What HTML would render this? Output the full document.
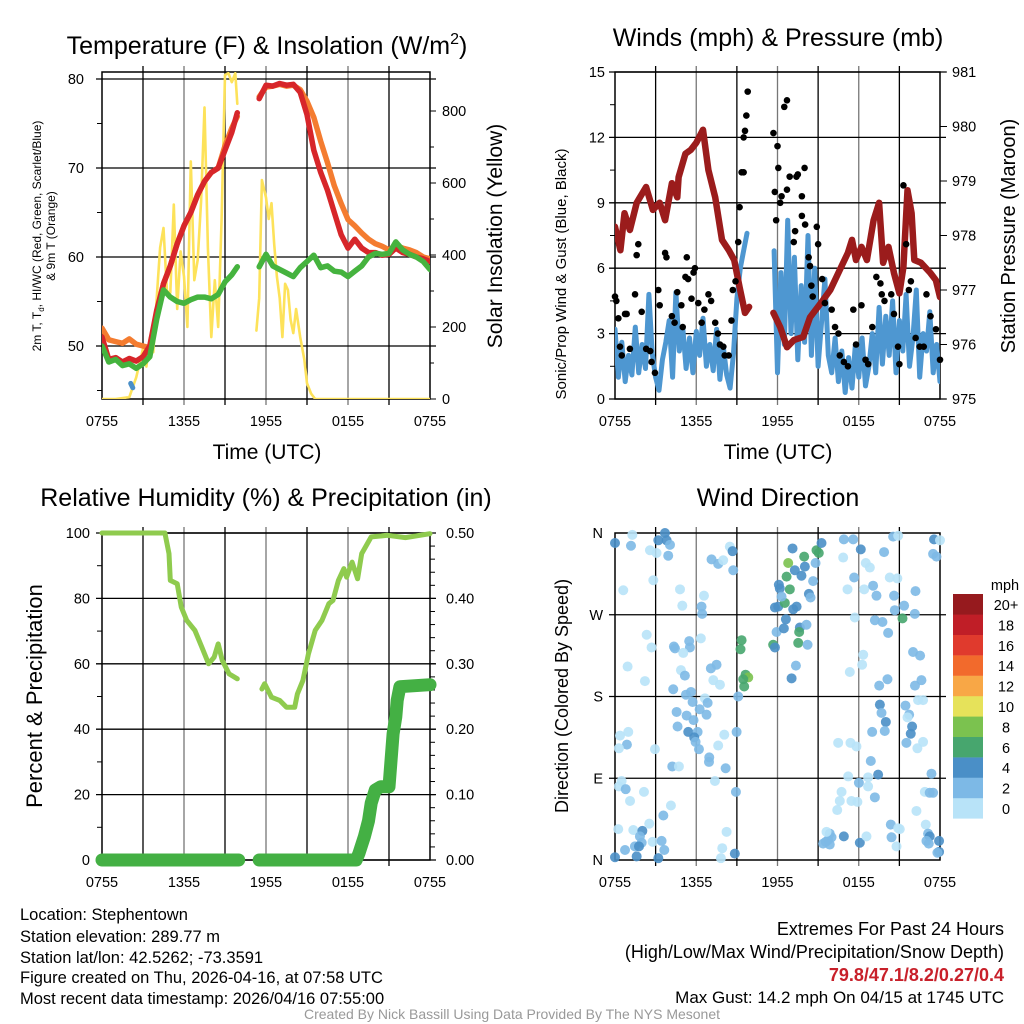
<!DOCTYPE html>
<html><head><meta charset="utf-8"><style>
html,body{margin:0;padding:0;background:#fff;}
svg{display:block;font-family:"Liberation Sans",sans-serif;}
</style></head><body>
<svg id="c" width="1024" height="1024" viewBox="0 0 1024 1024" xmlns="http://www.w3.org/2000/svg">
<defs>
<clipPath id="cp1"><rect x="102" y="72" width="328" height="327"/></clipPath>
<clipPath id="cp2"><rect x="615" y="72" width="325" height="327"/></clipPath>
</defs>
<g font-size="25" text-anchor="middle" fill="#000">
<text x="267" y="54">Temperature (F) &amp; Insolation (W/m<tspan font-size="16" dy="-10">2</tspan><tspan dy="10">)</tspan></text>
<text x="778" y="46">Winds (mph) &amp; Pressure (mb)</text>
<text x="266" y="506">Relative Humidity (%) &amp; Precipitation (in)</text>
<text x="778" y="506">Wind Direction</text>
</g>
<g font-size="21" text-anchor="middle">
<text x="267" y="459">Time (UTC)</text>
<text x="778" y="459">Time (UTC)</text>
<text transform="translate(502,236) rotate(-90)">Solar Insolation (Yellow)</text>
<text transform="translate(1015,236) rotate(-90)" font-size="20">Station Pressure (Maroon)</text>
<text transform="translate(42,696) rotate(-90)" font-size="22">Percent &amp; Precipitation</text>
<text transform="translate(566,274) rotate(-90)" font-size="15">Sonic/Prop Wind &amp; Gust (Blue, Black)</text>
<text transform="translate(568,696) rotate(-90)" font-size="18">Direction (Colored By Speed)</text>
<text transform="translate(41,236) rotate(-90)" font-size="12">2m T, T<tspan font-size="8" dy="3">d</tspan><tspan dy="-3">, HI/WC (Red, Green, Scarlet/Blue)</tspan></text>
<text transform="translate(55,236) rotate(-90)" font-size="12">&amp; 9m T (Orange)</text>
</g>
<g id="plots"></g>
<g font-size="16.5" fill="#000">
<text x="20" y="920">Location: Stephentown</text>
<text x="20" y="942">Station elevation: 289.77 m</text>
<text x="20" y="963">Station lat/lon: 42.5262; -73.3591</text>
<text x="20" y="983">Figure created on Thu, 2026-04-16, at 07:58 UTC</text>
<text x="20" y="1004">Most recent data timestamp: 2026/04/16 07:55:00</text>
</g>
<g font-size="18" text-anchor="end">
<text x="1004" y="935">Extremes For Past 24 Hours</text>
<text x="1004" y="958">(High/Low/Max Wind/Precipitation/Snow Depth)</text>
<text x="1004" y="981" fill="#c8202a" font-weight="bold">79.8/47.1/8.2/0.27/0.4</text>
<text x="1004" y="1003" font-size="17">Max Gust: 14.2 mph On 04/15 at 1745 UTC</text>
</g>
<text x="512" y="1019" font-size="14" fill="#999" text-anchor="middle">Created By Nick Bassill Using Data Provided By The NYS Mesonet</text>
</svg>
<script>
// ---------- DATA ----------
const xTickLabels=["0755","1355","1955","0155","0755"];
const tempTimesA=[0,0.5,1,1.5,2,2.5,3,3.5,4,4.5,5,5.5,6,6.5,7,7.5,8,8.5,9,9.5,9.9];
const tempTimesB=[11.5,12,12.5,13,13.5,14,14.5,15,15.5,16,16.5,17,17.5,18,18.5,19,19.5,20,20.5,21,21.5,22,22.5,23,23.5,24];
const temp2mA=[51,48.5,48.7,48.2,48.6,48.3,48.8,50,54,57,59,61.5,63.5,65,67,68.5,69.5,70,72,74,76.2];
const temp2mB=[77.8,79.3,79.2,79.5,79.3,79.4,78.5,76,72,69.5,67.5,65,62.5,61,62,61,60.5,60.5,60.2,60.3,61,60.5,60.3,60,59.8,59.5];
const temp9mA=[52,50.7,50.5,50.3,50.8,50.2,50,49.8,53.5,57,59,61.5,63.5,65,67,68.5,69.5,70,72.5,74.5,75.8];
const temp9mB=[78,79.1,79.2,79.4,79.2,79.3,78.8,77.5,75.7,73,70.6,68,66,64.2,63.5,62.7,62,61.5,61.2,60.8,61.3,61,60.8,60.5,60,59.8];
const heatIdxA=[50,48.2,48.5,47.8,48,47.5,48,48.8,53,56.3,55.5,55,54.8,55.2,55.5,55.5,55.3,55.8,57.2,58,58.9];
const heatIdxB=[58.9,60.3,59,58.6,58.2,57.8,58.8,59.5,60.2,58.8,59,58.4,58.3,57.8,58.4,59,60,60.4,60.3,60.4,61.7,60.8,60.3,60,59.5,58.6];
const windChillTimes=[2.1,2.25];
const windChillVals=[45.8,45.3];
const tempTicks=[50,60,70,80];
const solarTimesA=[0,1,2,2.5,3,3.25,3.5,3.75,4,4.25,4.5,4.75,5,5.25,5.5,5.75,6,6.25,6.5,6.75,7,7.25,7.5,7.75,8,8.25,8.5,8.75,9,9.25,9.5,9.75,9.9];
const solarValsA=[0,0,5,60,140,90,170,130,280,420,475,300,295,540,250,410,340,200,660,330,386,550,810,420,172,330,200,500,900,905,880,905,820];
const solarTimesB=[11.3,11.5,11.7,12,12.2,12.4,12.6,12.8,13,13.2,13.4,13.6,13.8,14,14.2,14.5,14.8,15,15.3,15.6,16,17,24];
const solarValsB=[190,280,608,560,500,544,430,340,280,172,320,303,220,183,250,172,110,44,15,0,0,0,0];
const solarTicks=[0,200,400,600,800];
const windStartA=0, windStartB=11.75;
const windA=[3.2,1.0,2.6,0.8,2.0,1.1,3.3,1.2,2.5,1.4,4.8,2.1,1.0,0.4,1.8,2.6,3.6,1.0,4.9,2.2,3.3,1.4,2.8,1.2,3.1,2.0,3.7,1.5,2.5,1.3,3.2,0.9,2.4,1.1,0.5,2.1,4.6,6.0,6.8,7.6];
const windB=[6.8,1.2,5.8,2.5,8.2,3.0,6.5,1.8,5.2,2.6,7.5,2.0,6.0,1.5,3.5,5.5,2.0,1.2,2.8,0.8,2.2,0.3,1.9,0.5,2.5,1.0,2.8,0.6,1.5,3.0,1.2,4.2,1.6,3.8,2.0,4.5,1.2,3.6,2.2,4.8,1.5,2.8,5.0,1.0,3.0,2.2,4.0,1.2,2.5,0.8];
const gustTimes=[0,0.1,0.25,0.37,0.5,0.74,0.86,1.1,1.48,1.6,1.72,1.97,2.3,2.6,2.7,2.95,3.2,3.3,3.7,3.8,4.2,4.4,4.6,4.9,5.0,5.2,5.3,5.4,5.65,5.8,5.9,6.15,6.4,6.6,6.9,7.1,7.4,7.6,7.75,8,8.1,8.4,8.6,8.7,8.9,9.1,9.2,9.35,9.5,9.5,9.6,9.7,9.8,
11.7,11.8,11.9,12.0,12.06,12.2,12.3,12.5,12.7,12.7,12.9,13.2,13.3,13.4,13.5,13.8,14,13.8,14.04,14.3,14.4,14.5,14.6,14.9,15,15.3,15.5,16,16.25,16.5,16.6,16.9,17.2,17.6,17.8,18.2,18.5,18.7,19,19.3,19.6,19.7,19.9,20.4,20.6,20.9,21.0,21.3,21.5,21.7,21.85,22.2,22.5,22.8,23.0,23.3,23.7,24];
const gustVals=[4.7,4.5,3.7,2.4,2,3.9,3.9,2.3,4.8,6.6,7.1,4.0,2.3,2.2,1.7,1.2,5.0,4.3,6.7,6.5,3.8,3.5,4.9,4.3,3.3,5.6,6.5,5.5,4.6,5.8,6,4.4,3.5,4.1,4.8,4.5,3.5,3.0,2.5,2.4,2,2,3.6,5.0,5.4,7.2,8.8,10.4,10.4,12,12.3,13,14.1,
12.2,9.5,8.2,11.6,10.6,9.0,9.3,13.4,13.7,9.6,10.2,7.2,7.7,10.2,10.3,9.3,10.6,8.4,8,6.5,6.1,5.2,4.7,7.9,7.1,5.5,4.4,4.1,3.3,3.0,2.0,1.7,1.5,4.1,2.5,4.3,1.8,1.6,3.3,5.6,5.3,4.8,4.5,4.8,3.9,2.4,1.6,9.8,7.1,5.0,5.4,2.8,2.4,2.4,4.8,3.8,3.2,1.8];
const presTimesA=[0,0.4,0.7,1.1,1.6,2.3,2.8,3.3,3.7,4.2,4.6,4.7,5.2,5.6,6.0,6.5,6.9,7.4,7.9,8.4,8.8,9.2,9.6,9.9];
const presValsA=[978.16,977.73,978.41,978.1,978.6,978.89,978.47,978.6,978.28,978.96,978.7,979.07,979.5,979.57,979.7,979.94,979.2,978.7,977.92,977.73,977.55,977.05,976.58,976.69];
const presTimesB=[11.7,12.2,12.7,13.2,13.9,14.4,15.2,15.9,16.7,17.2,17.5,17.8,18.2,18.6,19.1,19.5,19.8,20.2,20.6,21.0,21.3,21.6,21.9,22.1,22.6,23.3,23.7,24];
const presValsB=[976.58,976.32,975.95,976.08,976.14,976.5,976.76,977,977.42,977.68,977.92,977.55,977.79,977.55,978.28,978.6,977.5,977.79,977.31,976.94,977.42,978.83,978.41,977.55,977.5,977.31,977.18,976.87];
const windTicks=[0,3,6,9,12,15];
const presTicks=[975,976,977,978,979,980,981];
const rhTimesA=[0,2,4,4.6,4.9,5.0,5.5,5.8,6.2,6.8,7.3,7.8,8.2,8.5,8.8,9.3,9.9];
const rhValsA=[100,100,100,100,93.7,85.5,84.5,77.3,73.3,70.2,65.1,60,62,66.1,61,56.9,55.4];
const rhTimesB=[11.7,11.9,12.4,13.0,13.5,14.1,14.3,14.7,15.1,15.6,16.1,16.6,16.9,17.3,17.7,17.9,18.3,18.7,19,19.7,20.9,22.2,24];
const rhValsB=[52.3,53.9,49.8,48.8,46.7,46.7,50.8,54.9,63,70.2,73.3,78.4,79.4,85.5,89.1,86.5,91.1,86,93.7,98.8,99.3,98.6,99.8];
const precipTimesA=[0,10];
const precipValsA=[0,0];
const precipTimesB=[11.5,18.6,18.8,19.2,19.5,19.7,20,20.4,21,21.3,21.5,21.6,21.8,24];
const precipValsB=[0,0,0.01,0.036,0.06,0.087,0.107,0.112,0.112,0.193,0.219,0.244,0.265,0.268];
const rhTicks=[0,20,40,60,80,100];
const precipTicks=["0.00","0.10","0.20","0.30","0.40","0.50"];
const dirTimes=[0.0,1.28,1.18,2.58,3.07,3.2,3.69,3.81,4.06,3.93,2.83,0.61,4.8,4.97,6.57,6.39,6.44,7.13,7.62,7.99,8.48,8.68,8.73,2.34,2.7,0.93,2.21,4.35,4.43,5.48,5.53,5.04,6.34,4.87,5.16,7.08,7.5,7.26,7.75,4.3,5.24,5.61,5.73,6.64,6.84,6.25,6.76,4.55,5.29,5.8,4.62,5.41,6.1,5.85,5.95,6.2,0.37,0.98,0.88,0.29,2.95,7.62,8.07,8.98,9.1,6.96,6.94,4.23,4.72,8.17,7.38,8.93,0.49,0.29,0.79,1.11,2.14,4.13,3.57,2.53,0.24,1.35,2.02,1.84,1.97,1.47,1.77,1.6,0.74,0,2.78,3.44,3.64,3.2,8.24,7.92,7.82,8.85,
9.35,9.27,9.64,9.84,9.47,9.54,11.68,11.81,11.93,12.47,12.62,12.05,11.81,12.54,12.17,12.1,12.3,12.91,12.67,12.79,13.11,13.28,13.77,13.97,14.02,13.41,13.16,13.65,13.6,13.53,14.14,14.22,14.32,14.44,14.63,14.81,14.88,15.05,15.25,13.36,13.04,
16.9,17.59,18.15,16.85,18.52,18.82,17.66,17.17,18.4,19.06,19.31,19.87,20.54,20.91,20.29,20.85,20.61,20.66,21.35,21.23,22.14,22.19,23.56,24.0,23.49,23.74,17.71,19.19,19.75,20.17,18.33,18.25,17.34,20.12,19.51,22.01,22.53,22.63,22.15,19.56,19.68,20.0,19.92,18.99,21.45,21.72,21.6,21.94,21.84,21.52,22.38,22.75,22.33,22.75,16.48,17.39,17.83,18.89,19.43,17.22,18.01,18.69,18.69,19.19,17.46,17.9,16.73,16.6,16.41,23.37,22.88,23.24,23.49,22.26,22.95,20.37,20.91,21.03,20.42,20.79,23.12,23.24,23.0,23.17,23.93,23.93,23.81,18.08,18.57,16.9,15.86,15.99,15.74,15.57,15.37,15.86,15.62];
const dirDegs=[349,358,346,341,338,352,360,352,347,335,308,297,298,280,291,279,271,331,326,330,345,340,319,248,234,213,197,235,233,241,234,228,244,209,203,211,215,198,193,188,182,185,174,178,173,166,160,163,159,154,147,141,141,135,130,122,137,141,127,123,122,126,138,141,180,113,108,103,103,101,87,75,87,81,78,65,75,60,49,40,34,33,32,26,19,15,15,4,11,3,20,21,11,2,31,13,2,7,
242,232,204,201,199,191,237,234,251,255,265,279,278,283,299,303,290,298,312,327,343,319,313,334,323,279,276,256,251,239,259,237,293,289,307,327,341,338,349,214,200,
353,353,342,333,327,322,311,298,298,302,291,339,356,357,311,310,291,275,280,266,271,296,353,352,337,334,267,264,262,250,226,215,207,199,192,229,225,198,192,171,162,152,142,141,170,160,157,147,139,129,176,176,123,130,129,129,125,109,94,92,85,91,81,69,65,64,75,65,55,95,75,74,74,54,39,39,35,34,25,15,29,26,21,18,21,9,8,19,26,26,29,25,22,20,18,17,31];
const dirSpeeds=[5,1,3,1,1,5,5,5,3,3,1,1,1,1,1,3,3,3,3,1,1,5,3,1,1,1,1,3,3,3,3,1,1,1,3,3,3,1,1,3,3,3,3,1,3,3,3,3,3,3,3,5,3,5,3,3,1,1,3,1,1,1,1,3,3,3,3,3,1,3,1,3,1,1,3,1,1,1,3,1,1,1,5,3,3,3,5,5,3,5,1,3,3,5,1,1,1,5,
7,7,7,9,7,7,7,5,3,5,5,5,5,7,5,5,3,7,7,9,5,5,5,7,5,5,5,5,7,7,3,3,5,3,3,3,7,7,5,3,5,
3,3,5,1,1,1,3,1,1,3,3,3,3,1,1,1,3,3,3,7,3,3,5,1,3,3,1,3,3,3,1,1,1,3,3,3,3,3,3,5,3,5,3,3,3,3,1,5,5,3,1,1,1,1,1,1,1,3,5,1,3,1,1,3,1,1,1,1,1,3,1,3,3,1,1,3,1,1,3,1,3,5,3,3,5,5,3,5,1,5,3,3,3,3,3,3,1];
const dirTickLabels=["N","E","S","W","N"];
const speedBins=[0,2,4,6,8,10,12,14,16,18,20];
const speedLabels=["0","2","4","6","8","10","12","14","16","18","20+"];
const speedColors=["#b8e3f8","#7db9e6","#4a8fc7","#47a66e","#7bc24f","#e6e25a","#f8a746","#f26a2c","#e03a2d","#c01e27","#961a1e"];

// ---------- SCALES ----------
const NS="http://www.w3.org/2000/svg";
const root=document.getElementById('plots');
function mk(tag,attrs,parent){const e=document.createElementNS(NS,tag);for(const k in attrs)e.setAttribute(k,attrs[k]);(parent||root).appendChild(e);return e;}
const P1={L:102,R:430,T:72,B:399}, P2={L:615,R:940,T:72,B:399}, P3={L:102,R:430,T:533,B:860}, P4={L:615,R:940,T:533,B:860};
const xs=(P,t)=>P.L+t*(P.R-P.L)/24;
const yTemp=v=>79+(80-v)*8.9;
const ySolar=v=>399-v*0.36;
const yWind=v=>399-v*21.8;
const yPres=p=>399-(p-975)*54.5;
const yRH=v=>860-v*3.27;
const yPrecip=v=>860-v*654;
const yDir=d=>860-d*0.9083;
function colorFor(s){let c=speedColors[0];for(let i=0;i<speedBins.length;i++){if(s>=speedBins[i])c=speedColors[i];}return c;}
function pts(P,ts,vs,yf){return ts.map((t,i)=>xs(P,t).toFixed(1)+','+yf(vs[i]).toFixed(1)).join(' ');}
function line(P,ts,vs,yf,color,w,clip,name){
  const e=mk('polyline',{points:pts(P,ts,vs,yf),fill:'none',stroke:color,'stroke-width':w,'stroke-linejoin':'round','stroke-linecap':'round'});
  if(clip)e.setAttribute('clip-path',clip);
  
  
  return e;
}
function frame(P,name){
  const g=mk('g',{});
  
  
  for(let i=1;i<8;i++){const x=xs(P,i*3);const l=mk('line',{x1:x,x2:x,y1:P.T-6,y2:P.B+6,stroke:(i%2?'#000':'#777'),'stroke-width':1.3},g);
    
    }
  const r=mk('rect',{x:P.L,y:P.T,width:P.R-P.L,height:P.B-P.T,fill:'none',stroke:'#000','stroke-width':1.5},g);
  
  
  xTickLabels.forEach((s,i)=>{const t=mk('text',{x:xs(P,i*6),y:P.B+27,'font-size':14.5,'text-anchor':'middle'},g);t.textContent=s;
    
    });
  return g;
}
function hgrid(P,y,g){const l=mk('line',{x1:P.L-6,x2:P.R+6,y1:y,y2:y,stroke:'#000','stroke-width':1.3},g);
  
  }
function label(x,y,s,anchor,g){const t=mk('text',{x:x,y:y+5,'font-size':14.5,'text-anchor':anchor},g);t.textContent=s;
  
  }
function minor(x1,x2,y,g){mk('line',{x1:x1,x2:x2,y1:y,y2:y,stroke:'#000','stroke-width':1},g);}

// ---------- PANEL 1 ----------
let g=frame(P1,'temperature-panel');
tempTicks.forEach(v=>{hgrid(P1,yTemp(v),g);label(P1.L-18,yTemp(v),String(v),'end',g);});
[45,55,65,75].forEach(v=>minor(P1.L-5,P1.L,yTemp(v),g));
solarTicks.forEach(v=>{label(P1.R+12,ySolar(v),String(v),'start',g);minor(P1.R,P1.R+6,ySolar(v),g);});
[100,300,500,700].forEach(v=>minor(P1.R,P1.R+4,ySolar(v),g));
line(P1,solarTimesA,solarValsA,ySolar,'#fde25a',2.6,'url(#cp1)','solar-line');
line(P1,solarTimesB,solarValsB,ySolar,'#fde25a',2.6,'url(#cp1)','solar-line');
line(P1,tempTimesA,temp9mA,yTemp,'#f47c30',5.5,'url(#cp1)','temp-9m-line');
line(P1,tempTimesB,temp9mB,yTemp,'#f47c30',5.5,'url(#cp1)','temp-9m-line');
line(P1,tempTimesA,temp2mA,yTemp,'#d7262a',5.5,'url(#cp1)','temp-2m-line');
line(P1,tempTimesB,temp2mB,yTemp,'#d7262a',5.5,'url(#cp1)','temp-2m-line');
line(P1,tempTimesA,heatIdxA,yTemp,'#45b33e',5.5,'url(#cp1)','dewpoint-line');
line(P1,tempTimesB,heatIdxB,yTemp,'#45b33e',5.5,'url(#cp1)','dewpoint-line');
line(P1,windChillTimes,windChillVals,yTemp,'#4a8fc7',5,'url(#cp1)','wind-chill-line');

// ---------- PANEL 2 ----------
g=frame(P2,'winds-panel');
windTicks.forEach(v=>{hgrid(P2,yWind(v),g);label(P2.L-10,yWind(v),String(v),'end',g);});
[1.5,4.5,7.5,10.5,13.5].forEach(v=>minor(P2.L-5,P2.L,yWind(v),g));
presTicks.forEach(v=>{label(P2.R+12,yPres(v),String(v),'start',g);minor(P2.R,P2.R+7,yPres(v),g);});
const wtA=windA.map((v,i)=>windStartA+i*0.25), wtB=windB.map((v,i)=>windStartB+i*0.25);
line(P2,wtA,windA,yWind,'#4e97d1',5,'url(#cp2)','wind-speed-line');
line(P2,wtB,windB,yWind,'#4e97d1',5,'url(#cp2)','wind-speed-line');
line(P2,presTimesA,presValsA,yPres,'#9b1c1c',6.5,'url(#cp2)','pressure-line');
line(P2,presTimesB,presValsB,yPres,'#9b1c1c',6.5,'url(#cp2)','pressure-line');
gustTimes.forEach((t,i)=>{const c=mk('circle',{cx:xs(P2,t),cy:yWind(gustVals[i]),r:3.3,fill:'#000'});
  
  });

// ---------- PANEL 3 ----------
g=frame(P3,'humidity-panel');
rhTicks.forEach((v,i)=>{hgrid(P3,yRH(v),g);label(P3.L-12,yRH(v),String(v),'end',g);label(P3.R+16,yRH(v),precipTicks[i],'start',g);});
[10,30,50,70,90].forEach(v=>minor(P3.L-5,P3.L,yRH(v),g));
for(let v=0.02;v<0.5;v+=0.02){minor(P3.R,P3.R+5,yPrecip(v),g);}
line(P3,rhTimesA,rhValsA,yRH,'#8fcb4e',5,null,'humidity-line');
line(P3,rhTimesB,rhValsB,yRH,'#8fcb4e',5,null,'humidity-line');
line(P3,precipTimesA,precipValsA,yPrecip,'#44b044',13,null,'precip-line');
line(P3,precipTimesB,precipValsB,yPrecip,'#44b044',13,null,'precip-line');

// ---------- PANEL 4 ----------
g=frame(P4,'wind-direction-panel');
dirTickLabels.forEach((s,i)=>{const y=yDir(i*90);if(i>0&&i<4)hgrid(P4,y,g);label(P4.L-12,y,s,'end',g);});
dirTimes.forEach((t,i)=>{const c=mk('circle',{cx:xs(P4,t),cy:yDir(dirDegs[i]),r:5,fill:colorFor(dirSpeeds[i]),'fill-opacity':0.9});
  
  });
const cb=mk('g',{});


const t0=mk('text',{x:1005,y:590,'font-size':14.5,'text-anchor':'middle'},cb);t0.textContent='mph';
speedColors.forEach((c,i)=>{const k=speedColors.length-1-i;const y=594+k*20.4;
  const r=mk('rect',{x:953,y:y,width:30,height:20.6,fill:c},cb);
  
  
  const t=mk('text',{x:1006,y:y+16,'font-size':14.5,'text-anchor':'middle'},cb);t.textContent=speedLabels[i];
  
  });
</script>
</body></html>
